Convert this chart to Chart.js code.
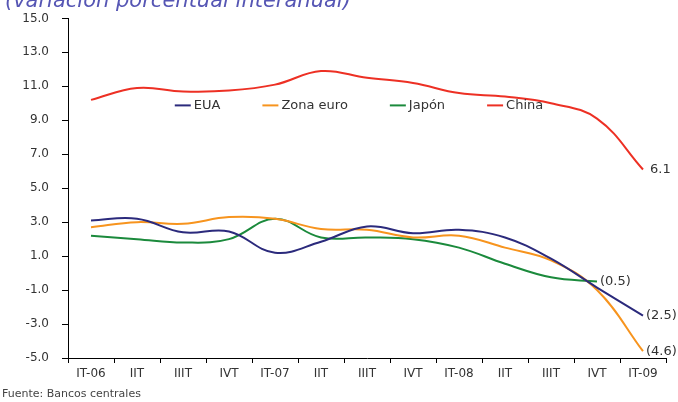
<!DOCTYPE html>
<html>
<head>
<meta charset="utf-8">
<script src="https://cdn.jsdelivr.net/npm/chart.js@4"></script>
<style>
  html, body { margin: 0; padding: 0; background: #fff; }
  #wrap { width: 678px; height: 402px; position: relative; }
</style>
</head>
<body>
<div id="wrap"><canvas id="growthChart"></canvas></div>
<script>
const quarters = ["IT-06", "IIT", "IIIT", "IVT", "IT-07", "IIT", "IIIT", "IVT", "IT-08", "IIT", "IIIT", "IVT", "IT-09"];

const eua      = [3.1, 3.2, 2.4, 2.45, 1.2, 1.85, 2.75, 2.35, 2.55, 2.1, 0.85, -0.85, -2.5];
const zonaEuro = [2.7, 3.0, 2.9, 3.3, 3.2, 2.6, 2.55, 2.1, 2.2, 1.5, 0.75, -1.0, -4.6];
const japon    = [2.2, 2.0, 1.8, 2.0, 3.2, 2.1, 2.1, 2.0, 1.5, 0.55, -0.25, -0.5, null];
const china    = [10.2, 10.9, 10.7, 10.75, 11.1, 11.9, 11.5, 11.2, 10.6, 10.4, 10.0, 9.1, 6.1];

const seriesNames = ["EUA", "Zona euro", "Japón", "China"];
const seriesColors = ["#2b2a7c", "#f7941e", "#1b8a3c", "#ed3024"];
const endLabels = ["(2.5)", "(4.6)", "(0.5)", "6.1"];

const textColor = "#333333";

// Title (cut at the top), footer, legend inside the plot and end labels
const decorations = {
  id: "decorations",
  afterDraw(chart) {
    const ctx = chart.ctx;
    const area = chart.chartArea;
    ctx.save();

    ctx.font = "italic 21px 'DejaVu Sans'";
    ctx.fillStyle = "#5656b4";
    ctx.textBaseline = "alphabetic";
    ctx.textAlign = "left";
    ctx.fillText("(variación porcentual interanual)", 5, 7);

    ctx.font = "11px 'DejaVu Sans'";
    ctx.fillStyle = "#444";
    ctx.textBaseline = "middle";
    ctx.fillText("Fuente: Bancos centrales", 2, 394);

    // legend
    ctx.font = "13px 'DejaVu Sans'";
    const lineLen = 16, gap = 3, itemGap = 42;
    const widths = seriesNames.map(n => lineLen + gap + ctx.measureText(n).width);
    const total = widths.reduce((a, b) => a + b, 0) + itemGap * (widths.length - 1);
    let x = (area.left + area.right) / 2 - total / 2 - 8;
    const y = area.top + 87;
    seriesNames.forEach((name, i) => {
      ctx.strokeStyle = seriesColors[i];
      ctx.lineWidth = 2;
      ctx.beginPath();
      ctx.moveTo(x, y);
      ctx.lineTo(x + lineLen, y);
      ctx.stroke();
      ctx.fillStyle = textColor;
      ctx.fillText(name, x + lineLen + gap, y);
      x += widths[i] + itemGap;
    });

    // end-of-series value labels
    ctx.font = "13px 'DejaVu Sans'";
    chart.data.datasets.forEach((ds, i) => {
      const meta = chart.getDatasetMeta(i);
      let last = ds.data.length - 1;
      while (ds.data[last] === null) last--;
      const pt = meta.data[last];
      ctx.fillStyle = textColor;
      ctx.fillText(endLabels[i], pt.x + (i === 3 ? 7 : 3), pt.y);
    });

    ctx.restore();
  }
};

const datasets = [eua, zonaEuro, japon, china].map((values, i) => ({
  label: seriesNames[i],
  data: values,
  borderColor: seriesColors[i],
  backgroundColor: seriesColors[i],
  borderWidth: 2,
  pointRadius: 0,
  tension: 0.4,
  fill: false
}));

new Chart(document.getElementById("growthChart"), {
  type: "line",
  data: { labels: quarters, datasets: datasets },
  plugins: [decorations],
  options: {
    responsive: true,
    maintainAspectRatio: false,
    animation: false,
    layout: { padding: { top: 17, right: 12, left: 0, bottom: 0 } },
    plugins: {
      legend: { display: false },
      tooltip: { enabled: false }
    },
    scales: {
      x: {
        offset: true,
        afterFit(scale) { scale.height = 44; },
        border: { color: "#000", width: 1 },
        grid: { drawOnChartArea: false, offset: true, tickLength: 5, color: "#000" },
        ticks: {
          color: textColor,
          font: { family: "DejaVu Sans", size: 12 },
          maxRotation: 0,
          autoSkip: false,
          padding: 4
        }
      },
      y: {
        min: -5,
        max: 15,
        afterFit(scale) { scale.width = 68; },
        border: { color: "#000", width: 1 },
        grid: { drawOnChartArea: false, tickLength: 6, color: "#000" },
        ticks: {
          stepSize: 2,
          color: textColor,
          font: { family: "DejaVu Sans", size: 12, lineHeight: 0.9 },
          padding: 13,
          callback: v => v.toFixed(1)
        }
      }
    }
  }
});
</script>
</body>
</html>
